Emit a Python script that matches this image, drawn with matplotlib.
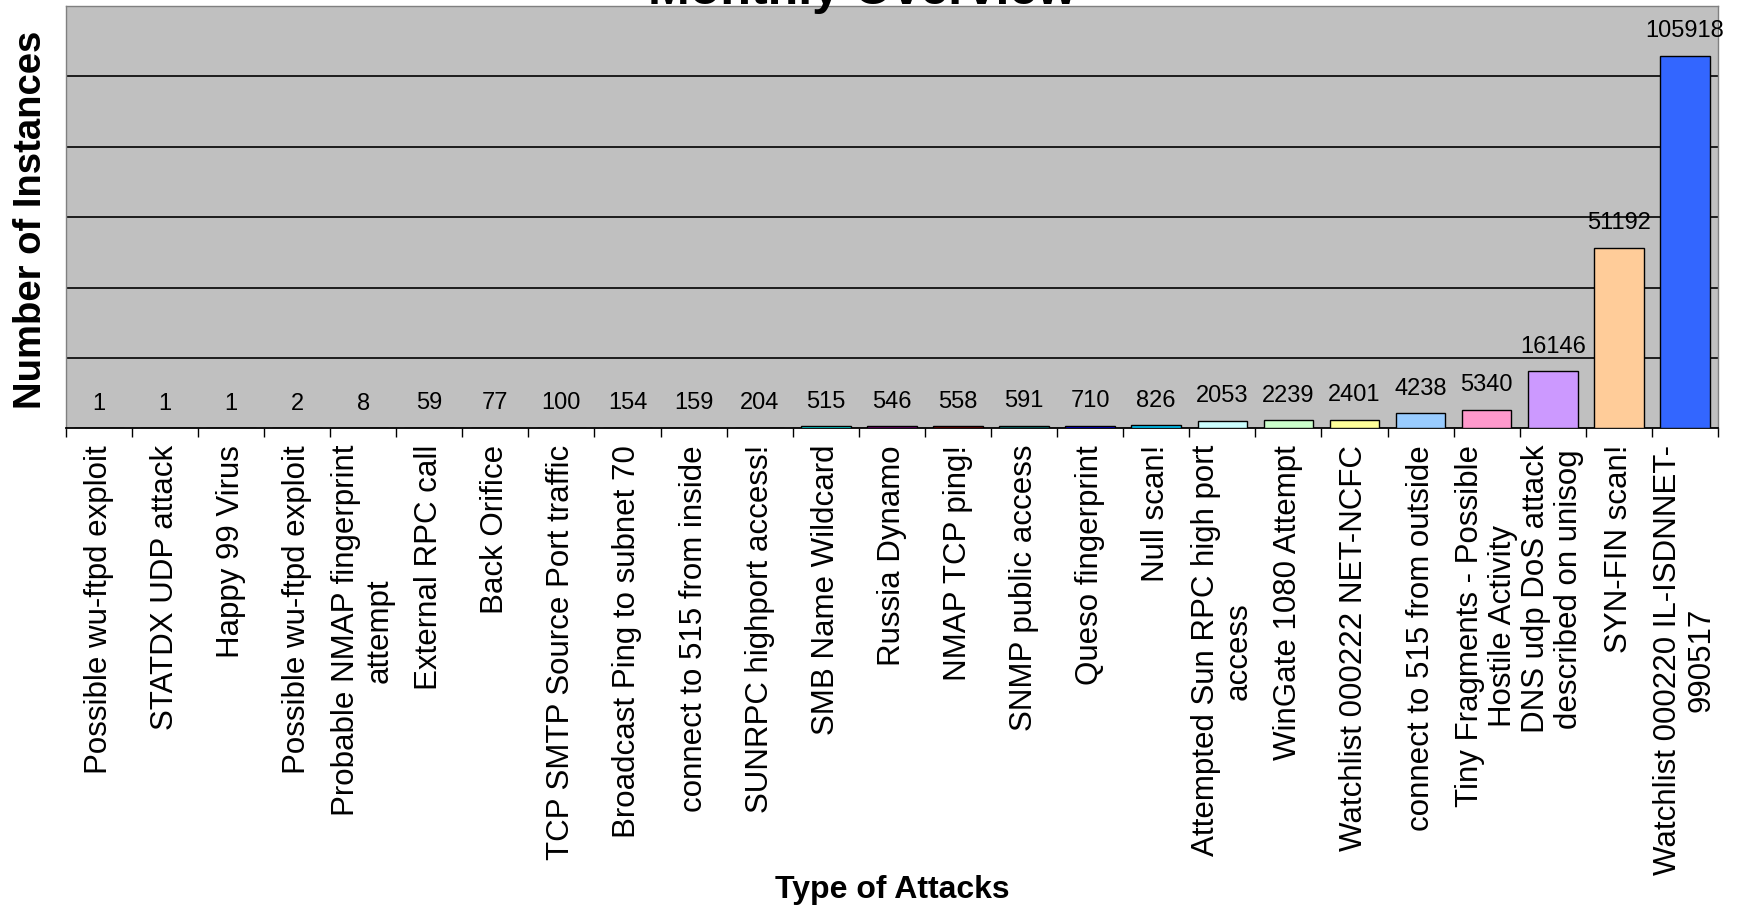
import matplotlib
matplotlib.use("Agg")
import matplotlib.pyplot as plt
import numpy as np

plt.rcParams['font.family'] = ['Liberation Sans', 'DejaVu Sans']

categories = [
    "Possible wu-ftpd exploit",
    "STATDX UDP attack",
    "Happy 99 Virus",
    "Possible wu-ftpd exploit",
    "Probable NMAP fingerprint\nattempt",
    "External RPC call",
    "Back Orifice",
    "TCP SMTP Source Port traffic",
    "Broadcast Ping to subnet 70",
    "connect to 515 from inside",
    "SUNRPC highport access!",
    "SMB Name Wildcard",
    "Russia Dynamo",
    "NMAP TCP ping!",
    "SNMP public access",
    "Queso fingerprint",
    "Null scan!",
    "Attempted Sun RPC high port\naccess",
    "WinGate 1080 Attempt",
    "Watchlist 000222 NET-NCFC",
    "connect to 515 from outside",
    "Tiny Fragments - Possible\nHostile Activity",
    "DNS udp DoS attack\ndescribed on unisog",
    "SYN-FIN scan!",
    "Watchlist 000220 IL-ISDNNET-\n990517",
]
values = [1, 1, 1, 2, 8, 59, 77, 100, 154, 159, 204, 515, 546, 558, 591,
          710, 826, 2053, 2239, 2401, 4238, 5340, 16146, 51192, 105918]
colors = ["#9999FF", "#993366", "#FFFFCC", "#CCFFFF", "#660066", "#FF8080",
          "#0066CC", "#CCCCFF", "#000080", "#FF00FF", "#FFFF00", "#00FFFF",
          "#800080", "#800000", "#008080", "#0000FF", "#00CCFF", "#CCFFFF",
          "#CCFFCC", "#FFFF99", "#99CCFF", "#FF99CC", "#CC99FF", "#FFCC99",
          "#3366FF"]
y_max = 120000
grid_step = 20000

W, H = 1739, 910
fig = plt.figure(figsize=(W / 100, H / 100), dpi=100)
fig.patch.set_facecolor("white")

left, right = 65.7 / W, 1718 / W
top, bottom = 1 - 6 / H, 1 - 428.3 / H
ax = fig.add_axes([left, bottom, right - left, top - bottom])
ax.set_facecolor("#C0C0C0")

x = np.arange(len(values))
bars = ax.bar(x, values, width=0.75, color=colors, edgecolor="black",
              linewidth=1.0, zorder=3)

ax.set_xlim(-0.5, len(values) - 0.5)
ax.set_ylim(0, y_max)

# gridlines
ax.set_yticks(np.arange(grid_step, y_max, grid_step))
ax.yaxis.grid(True, color="black", linewidth=1.2, zorder=1)
ax.tick_params(axis="y", left=False, labelleft=False)
ax.set_axisbelow(True)

# x ticks: marks at boundaries, labels at centers
ax.set_xticks(np.arange(-0.5, len(values), 1.0))
ax.set_xticklabels([])
ax.tick_params(axis="x", which="major", direction="out", length=6.5,
               width=1.0, color="black")
ax.set_xticks(x, minor=True)
ax.set_xticklabels(categories, minor=True, rotation=90, fontsize=22.5,
                   ha="center", va="top", multialignment="center",
                   linespacing=1.15)
ax.tick_params(axis="x", which="minor", length=0, pad=12)

for sp in ["left", "top", "right"]:
    ax.spines[sp].set_color("#808080")
    ax.spines[sp].set_linewidth(1.0)
ax.spines["bottom"].set_color("black")
ax.spines["bottom"].set_linewidth(1.3)

# value labels
for xi, v in zip(x, values):
    ax.annotate(str(v), xy=(xi, v), xytext=(0, 13.5), textcoords="offset points",
                ha="center", va="baseline", fontsize=17, color="black")

fig.text(862 / W, 1 - 4 / H, "Monthly Overview", ha="center", va="baseline",
         fontsize=36, fontweight="bold")
fig.text(892 / W, 1 - 890 / H, "Type of Attacks", ha="center", va="center",
         fontsize=23, fontweight="bold")
fig.text(31 / W, 1 - 220 / H, "Number of Instances", ha="center", va="center",
         rotation=90, fontsize=27.5, fontweight="bold")

fig.savefig("out.png", dpi=100)
